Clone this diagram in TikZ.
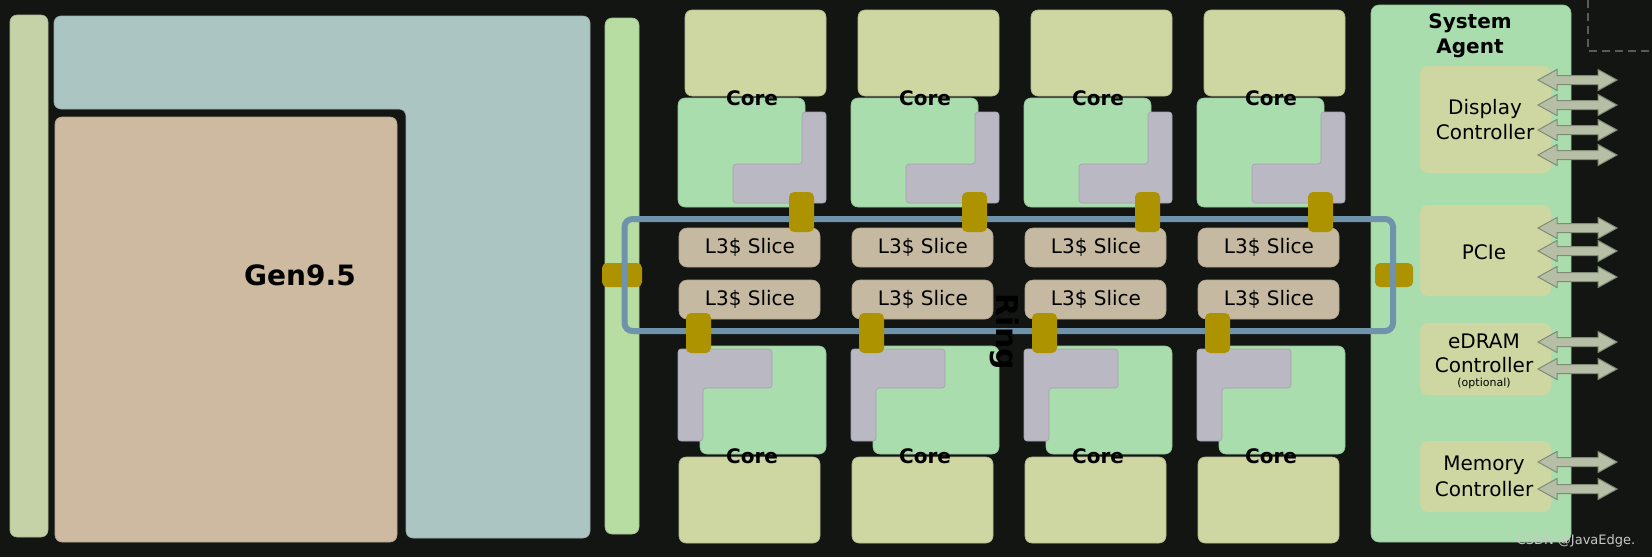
\documentclass[tikz,border=0pt]{standalone}
\usepackage{fontspec}
\setmainfont{DejaVu Sans}
\definecolor{bg}{HTML}{131513}
\definecolor{stripL}{HTML}{C5D1A6}
\definecolor{gpublue}{HTML}{ABC5C3}
\definecolor{gputan}{HTML}{CEB9A1}
\definecolor{stripG}{HTML}{B7DDA3}
\definecolor{coreY}{HTML}{CED6A2}
\definecolor{coreG}{HTML}{AADDAE}
\definecolor{coreGray}{HTML}{B9B8C3}
\definecolor{gold}{HTML}{AD9300}
\definecolor{slicec}{HTML}{C6B9A1}
\definecolor{ringc}{HTML}{6F93AB}
\definecolor{arrF}{HTML}{B6BFA6}
\definecolor{arrD}{HTML}{7F8B76}
\definecolor{dashc}{HTML}{5A5A5A}
\definecolor{wmc}{HTML}{C8C8C8}
\tikzset{
  blk/.style={fill=#1, draw=#1!88!black, line width=0.3pt, rounded corners=3.5pt},
  lbl/.style={font=\fontsize{10pt}{12pt}\selectfont, inner sep=0pt, anchor=base},
  blbl/.style={font=\fontsize{10pt}{12pt}\selectfont\bfseries, inner sep=0pt, anchor=base},
  biglbl/.style={font=\fontsize{14pt}{16pt}\selectfont\bfseries, inner sep=0pt},
  ringline/.style={draw=ringc, line width=3pt, rounded corners=4pt},
  ringstop/.style={fill=gold, rounded corners=2.5pt},
  biarrow/.style={fill=arrF, draw=arrD, line width=0.5pt},
  dashline/.style={draw=dashc, line width=1pt, dash pattern=on 4pt off 2.5pt},
}
\begin{document}
\begin{tikzpicture}[x=0.5pt,y=-0.5pt]
\useasboundingbox (0,0) rectangle (1652,557);
\fill[bg] (0,0) rectangle (1652,557);
% left GPU area
\path[blk=stripL] (10,15) rectangle (48,537);
\path[blk=gpublue] (54,16) -- (590,16) -- (590,538) -- (406,538) -- (406,109) -- (54,109) -- cycle;
\path[blk=gputan] (55,117) rectangle (397,542);
\path[blk=stripG] (605,18) rectangle (639,534);
% core columns
\foreach \X [count=\i] in {685,858,1031,1204} {
  \path[blk=coreY] (\X,10) rectangle ({\X+141},96);
  \path[blk=coreG] ({\X-7},98) rectangle ({\X+120},207);
  \path[blk=coreGray, rounded corners=1.5pt] ({\X+117},112) -- ({\X+141},112) -- ({\X+141},203) -- ({\X+48},203) -- ({\X+48},164) -- ({\X+117},164) -- cycle;
  \path[blk=slicec, rounded corners=4pt] ({\X-6},228) rectangle ({\X+135},267);
  \path[blk=slicec, rounded corners=4pt] ({\X-6},280) rectangle ({\X+135},319);
  \path[blk=coreG] ({\X+15},346) rectangle ({\X+141},454);
  \path[blk=coreGray, rounded corners=1.5pt] ({\X-7},349) -- ({\X+87},349) -- ({\X+87},388) -- ({\X+18},388) -- ({\X+18},441) -- ({\X-7},441) -- cycle;
  \path[blk=coreY] ({\X-6},457) rectangle ({\X+135},543);
}
% system agent
\path[blk=coreG, rounded corners=4pt] (1371,5) rectangle (1571,542);
\path[fill=coreY, rounded corners=4pt] (1420,66) rectangle (1551,173);
\path[fill=coreY, rounded corners=4pt] (1420,205) rectangle (1551,296);
\path[fill=coreY, rounded corners=4pt] (1420,323) rectangle (1551,395);
\path[fill=coreY, rounded corners=4pt] (1420,441) rectangle (1551,512);
% ring
\path[ringstop] (602,263) rectangle (642,287);
\path[ringstop] (1375,263) rectangle (1413,287);
\draw[ringline] (624.5,219) rectangle (1393,331);
\foreach \X in {685,858,1031,1204} {
  \path[ringstop] ({\X+104},192) rectangle ({\X+129},232);
  \path[ringstop] ({\X+1},313) rectangle ({\X+26},353);
}
% I/O arrows
\foreach \yy in {80,105,130,155,228,251,277,342,369,462,489} {
  \filldraw[biarrow] (1538,\yy) -- ++(19,-10.5) -- ++(0,6) -- ++(41,0) -- ++(0,-6) -- ++(19,10.5) -- ++(-19,10.5) -- ++(0,-6) -- ++(-41,0) -- ++(0,6) -- cycle;
}
% dashed outline
\coordinate (dtop) at (1588,0);
\coordinate (dcorner) at (1588,51);
\coordinate (dright) at (1652,51);
\draw[dashline] (dtop) -- (dcorner) -- (dright);
% texts
\node[biglbl, anchor=base] (gen) at (300,285) {Gen9.5};
\foreach \X [count=\i] in {685,858,1031,1204} {
  \node[blbl] (coreT\i) at ({\X+67},105) {Core};
  \node[blbl] (coreB\i) at ({\X+67},463) {Core};
  \node[lbl] (sliceA\i) at ({\X+65},253) {L3\$ Slice};
  \node[lbl] (sliceB\i) at ({\X+65},305) {L3\$ Slice};
}
\node[font=\fontsize{15pt}{17pt}\selectfont\bfseries, rotate=-90, inner sep=0pt] (ringlbl) at (1005,332) {Ring};
\node[blbl] (sa1) at (1470,28) {System};
\node[blbl] (sa2) at (1470,53) {Agent};
\node[lbl] (disp1) at (1485,114) {Display};
\node[lbl] (disp2) at (1485,139) {Controller};
\node[lbl] (pcie) at (1484,259) {PCIe};
\node[lbl] (edram1) at (1484,348) {eDRAM};
\node[lbl] (edram2) at (1484,372) {Controller};
\node[font=\fontsize{5.5pt}{6pt}\selectfont, inner sep=0pt, anchor=base] (edram3) at (1484,386) {(optional)};
\node[lbl] (mem1) at (1484,470) {Memory};
\node[lbl] (mem2) at (1484,496) {Controller};
\node[font=\fontsize{6.5pt}{8pt}\selectfont, text=wmc, inner sep=0pt, anchor=base] (wm) at (1576,544) {CSDN @JavaEdge.};
\end{tikzpicture}
\end{document}
